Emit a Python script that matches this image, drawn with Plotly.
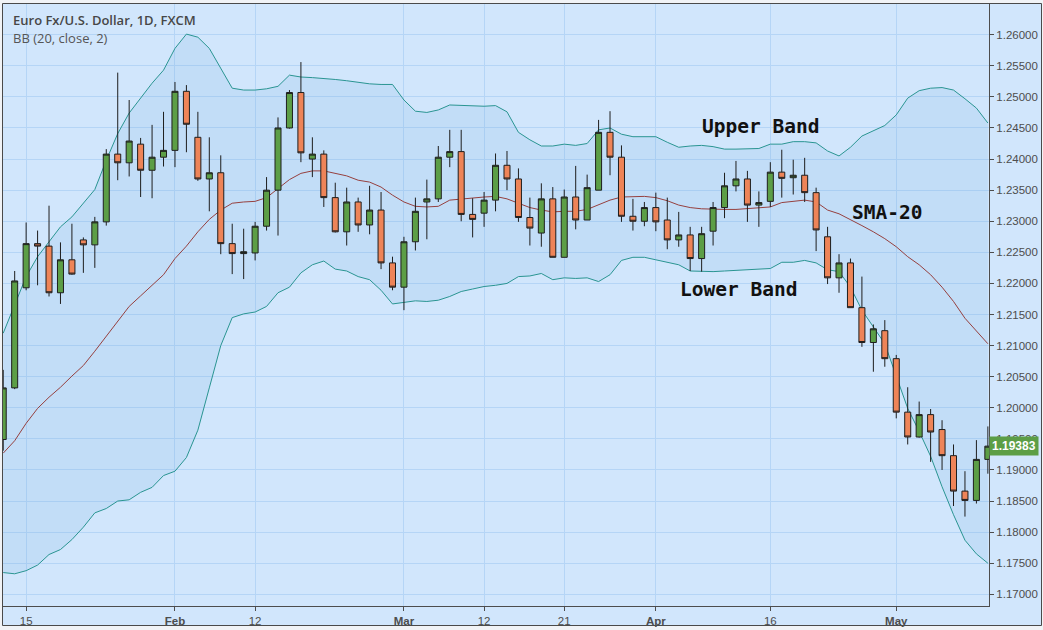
import plotly.graph_objects as go

# ---------------- data ----------------
dates = [
    "2018-01-11", "2018-01-12",
    "2018-01-15", "2018-01-16", "2018-01-17", "2018-01-18", "2018-01-19",
    "2018-01-22", "2018-01-23", "2018-01-24", "2018-01-25", "2018-01-26",
    "2018-01-29", "2018-01-30", "2018-01-31", "2018-02-01", "2018-02-02",
    "2018-02-05", "2018-02-06", "2018-02-07", "2018-02-08", "2018-02-09",
    "2018-02-12", "2018-02-13", "2018-02-14", "2018-02-15", "2018-02-16",
    "2018-02-19", "2018-02-20", "2018-02-21", "2018-02-22", "2018-02-23",
    "2018-02-26", "2018-02-27", "2018-02-28", "2018-03-01", "2018-03-02",
    "2018-03-05", "2018-03-06", "2018-03-07", "2018-03-08", "2018-03-09",
    "2018-03-12", "2018-03-13", "2018-03-14", "2018-03-15", "2018-03-16",
    "2018-03-19", "2018-03-20", "2018-03-21", "2018-03-22", "2018-03-23",
    "2018-03-26", "2018-03-27", "2018-03-28", "2018-03-29", "2018-03-30",
    "2018-04-02", "2018-04-03", "2018-04-04", "2018-04-05", "2018-04-06",
    "2018-04-09", "2018-04-10", "2018-04-11", "2018-04-12", "2018-04-13",
    "2018-04-16", "2018-04-17", "2018-04-18", "2018-04-19", "2018-04-20",
    "2018-04-23", "2018-04-24", "2018-04-25", "2018-04-26", "2018-04-27",
    "2018-04-30", "2018-05-01", "2018-05-02", "2018-05-03", "2018-05-04",
    "2018-05-07", "2018-05-08", "2018-05-09", "2018-05-10", "2018-05-11",
]

opens = [
    1.1949, 1.2032,
    1.2193, 1.2264, 1.2260, 1.2185, 1.2238,
    1.2270, 1.2262, 1.2299, 1.2408, 1.2394,
    1.2424, 1.2382, 1.2403, 1.2414, 1.2509,
    1.2435, 1.2368, 1.2378, 1.2264, 1.2248,
    1.2249, 1.2292, 1.2350, 1.2450, 1.2507,
    1.2400, 1.2408, 1.2338, 1.2283, 1.2331,
    1.2294, 1.2318, 1.2233, 1.2194, 1.2267,
    1.2331, 1.2336, 1.2403, 1.2412, 1.2311,
    1.2313, 1.2334, 1.2390, 1.2368, 1.2306,
    1.2281, 1.2336, 1.2242, 1.2339, 1.2302,
    1.2350, 1.2443, 1.2403, 1.2308, 1.2300,
    1.2322, 1.2302, 1.2270, 1.2278, 1.2240,
    1.2284, 1.2322, 1.2357, 1.2368, 1.2326,
    1.2332, 1.2379, 1.2370, 1.2374, 1.2346,
    1.2275, 1.2209, 1.2233, 1.2161, 1.2105,
    1.2124, 1.2079, 1.1993, 1.1953, 1.1989,
    1.1965, 1.1923, 1.1866, 1.1851, 1.1917,
]

highs = [
    1.2061, 1.2220,
    1.2298, 1.2285, 1.2325, 1.2266, 1.2296,
    1.2274, 1.2307, 1.2416, 1.2539, 1.2495,
    1.2434, 1.2455, 1.2476, 1.2524, 1.2519,
    1.2476, 1.2435, 1.2406, 1.2296, 1.2288,
    1.2299, 1.2371, 1.2467, 1.2511, 1.2556,
    1.2435, 1.2414, 1.2362, 1.2354, 1.2338,
    1.2357, 1.2347, 1.2243, 1.2275, 1.2338,
    1.2367, 1.2421, 1.2447, 1.2447, 1.2337,
    1.2347, 1.2409, 1.2413, 1.2385, 1.2338,
    1.2361, 1.2355, 1.2351, 1.2389, 1.2375,
    1.2463, 1.2477, 1.2422, 1.2336, 1.2331,
    1.2346, 1.2338, 1.2315, 1.2291, 1.2291,
    1.2331, 1.2378, 1.2397, 1.2381, 1.2348,
    1.2395, 1.2415, 1.2399, 1.2402, 1.2354,
    1.2291, 1.2247, 1.2240, 1.2211, 1.2134,
    1.2141, 1.2085, 1.2033, 1.2010, 1.1998,
    1.1980, 1.1941, 1.1898, 1.1948, 1.1970,
]

lows = [
    1.1931, 1.2030,
    1.2189, 1.2197, 1.2179, 1.2167, 1.2214,
    1.2217, 1.2225, 1.2293, 1.2366, 1.2372,
    1.2339, 1.2337, 1.2388, 1.2387, 1.2411,
    1.2365, 1.2316, 1.2247, 1.2215, 1.2207,
    1.2237, 1.2285, 1.2277, 1.2449, 1.2395,
    1.2371, 1.2323, 1.2282, 1.2261, 1.2283,
    1.2279, 1.2223, 1.2189, 1.2157, 1.2253,
    1.2271, 1.2331, 1.2387, 1.2300, 1.2274,
    1.2291, 1.2316, 1.2350, 1.2299, 1.2261,
    1.2259, 1.2242, 1.2242, 1.2287, 1.2302,
    1.2350, 1.2374, 1.2299, 1.2285, 1.2292,
    1.2284, 1.2255, 1.2259, 1.2220, 1.2219,
    1.2261, 1.2305, 1.2348, 1.2299, 1.2291,
    1.2323, 1.2338, 1.2343, 1.2331, 1.2252,
    1.2199, 1.2185, 1.2161, 1.2098, 1.2058,
    1.2066, 1.1983, 1.1941, 1.1952, 1.1913,
    1.1900, 1.1842, 1.1825, 1.1846, 1.1894,
]

closes = [
    1.2032, 1.2204,
    1.2264, 1.2260, 1.2185, 1.2238, 1.2215,
    1.2262, 1.2299, 1.2408, 1.2394, 1.2429,
    1.2382, 1.2403, 1.2414, 1.2509, 1.2456,
    1.2368, 1.2378, 1.2264, 1.2248, 1.2251,
    1.2292, 1.2350, 1.2450, 1.2507, 1.2410,
    1.2408, 1.2338, 1.2283, 1.2331, 1.2294,
    1.2318, 1.2233, 1.2194, 1.2267, 1.2316,
    1.2336, 1.2403, 1.2412, 1.2311, 1.2303,
    1.2334, 1.2390, 1.2368, 1.2306, 1.2289,
    1.2336, 1.2242, 1.2339, 1.2302, 1.2354,
    1.2443, 1.2403, 1.2308, 1.2300, 1.2322,
    1.2299, 1.2270, 1.2278, 1.2240, 1.2280,
    1.2322, 1.2357, 1.2368, 1.2326, 1.2330,
    1.2379, 1.2369, 1.2374, 1.2346, 1.2286,
    1.2209, 1.2233, 1.2161, 1.2105, 1.2127,
    1.2079, 1.1993, 1.1953, 1.1989, 1.1961,
    1.1923, 1.1866, 1.1851, 1.1917, 1.19383,
]

bb_upper = [
    1.2120, 1.2165,
    1.2211, 1.2243, 1.2267, 1.2291, 1.2307,
    1.2329, 1.2351, 1.2398, 1.2441, 1.2474,
    1.2498, 1.2522, 1.2543, 1.2578, 1.2601,
    1.2596, 1.2578, 1.2545, 1.2514, 1.2511,
    1.2511, 1.2513, 1.2517, 1.2535, 1.2532,
    1.2531, 1.2530, 1.2528, 1.2526, 1.2523,
    1.2521, 1.2520, 1.2520, 1.2495, 1.2477,
    1.2475, 1.2479, 1.2487, 1.2486, 1.2485,
    1.2485, 1.2486, 1.2476, 1.2443, 1.2431,
    1.2421, 1.2421, 1.2424, 1.2422, 1.2425,
    1.2447, 1.2450, 1.2440, 1.2436, 1.2436,
    1.2436, 1.2427, 1.2419, 1.2421, 1.2422,
    1.2420, 1.2416, 1.2416, 1.2417, 1.2417,
    1.2424, 1.2424, 1.2428, 1.2428, 1.2426,
    1.2413, 1.2405, 1.2419, 1.2437, 1.2445,
    1.2454, 1.2471, 1.2498, 1.2510, 1.2514,
    1.2515, 1.2511, 1.2497, 1.2482, 1.2458,
]

bb_basis = [
    1.1927, 1.1947,
    1.1975, 1.1999, 1.2017, 1.2033, 1.2051,
    1.2068, 1.2091, 1.2115, 1.2140, 1.2163,
    1.2180, 1.2197, 1.2214, 1.2240, 1.2260,
    1.2283, 1.2303, 1.2318, 1.2329, 1.2331,
    1.2332, 1.2338, 1.2352, 1.2367, 1.2377,
    1.2381, 1.2381, 1.2377, 1.2373, 1.2366,
    1.2363, 1.2355, 1.2342, 1.2331, 1.2324,
    1.2323, 1.2324, 1.2334, 1.2336, 1.2337,
    1.2339, 1.2340, 1.2336, 1.2329, 1.2322,
    1.2318, 1.2315, 1.2316, 1.2316, 1.2319,
    1.2326, 1.2334, 1.2339, 1.2340, 1.2340,
    1.2338, 1.2333, 1.2326, 1.2322, 1.2320,
    1.2319, 1.2319, 1.2319, 1.2320, 1.2322,
    1.2323, 1.2330, 1.2332, 1.2334, 1.2331,
    1.2318, 1.2312, 1.2303, 1.2293, 1.2283,
    1.2272, 1.2259, 1.2243, 1.2230, 1.2214,
    1.2194, 1.2171, 1.2144, 1.2123, 1.2103,
]

bb_lower = [
    1.1735, 1.1733,
    1.1738, 1.1747, 1.1764, 1.1772, 1.1788,
    1.1808, 1.1831, 1.1838, 1.1850, 1.1852,
    1.1864, 1.1872, 1.1891, 1.1898, 1.1920,
    1.1964, 1.2032, 1.2100, 1.2145, 1.2151,
    1.2154, 1.2163, 1.2185, 1.2194, 1.2217,
    1.2230, 1.2236, 1.2223, 1.2220, 1.2211,
    1.2206, 1.2189, 1.2167, 1.2170, 1.2172,
    1.2171, 1.2173, 1.2179, 1.2187, 1.2191,
    1.2195, 1.2197, 1.2200, 1.2211, 1.2212,
    1.2216, 1.2206, 1.2209, 1.2208, 1.2209,
    1.2203, 1.2214, 1.2237, 1.2242, 1.2242,
    1.2238, 1.2234, 1.2230, 1.2220, 1.2219,
    1.2219, 1.2220, 1.2221, 1.2222, 1.2223,
    1.2224, 1.2234, 1.2234, 1.2237, 1.2233,
    1.2222, 1.2219, 1.2194, 1.2157, 1.2130,
    1.2103, 1.2051, 1.1999, 1.1962, 1.1922,
    1.1873, 1.1828, 1.1787, 1.1765, 1.1750,
]

tick_dates = ["2018-01-15", "2018-02-01", "2018-02-12", "2018-03-01", "2018-03-12",
              "2018-03-21", "2018-04-02", "2018-04-16", "2018-05-01"]
tick_labels = ["15", "<b>Feb</b>", "12", "<b>Mar</b>", "12", "21", "<b>Apr</b>", "16", "<b>May</b>"]

price_ticks = [1.170, 1.175, 1.180, 1.185, 1.190, 1.195, 1.200, 1.205, 1.210, 1.215,
               1.220, 1.225, 1.230, 1.235, 1.240, 1.245, 1.250, 1.255, 1.260]
last_price = 1.19383

# ---------------- styling ----------------
W, H = 1043, 630
ML, MR, MT, MB = 3, 54, 4, 24
BG = "#d1e6fc"
GRID = "#b5d5f6"
AXC = "#4d4d4d"
TEAL = "#2a9592"
MAROON = "#96403f"
FILL = "rgba(90,160,210,0.12)"
GREEN = "#5c9e46"
RED = "#ee8458"
OUTLINE = "#1e1e1e"

XR = [-0.02, 86.1]
YR = [1.16812, 1.26494]

idx = list(range(len(dates)))
tickvals = [dates.index(d) for d in tick_dates]

PW = W - ML - MR
PH = H - MT - MB


def px(x):
    return (x - ML) / PW


def py(y):
    return (H - MB - y) / PH


fig = go.Figure()

fig.add_trace(go.Scatter(x=idx, y=bb_upper, mode="lines", line=dict(color=TEAL, width=1),
                         hoverinfo="skip", showlegend=False))
fig.add_trace(go.Scatter(x=idx, y=bb_lower, mode="lines", line=dict(color=TEAL, width=1),
                         fill="tonexty", fillcolor=FILL, hoverinfo="skip", showlegend=False))
fig.add_trace(go.Scatter(x=idx, y=bb_basis, mode="lines", line=dict(color=MAROON, width=1),
                         hoverinfo="skip", showlegend=False))

fig.add_trace(go.Candlestick(
    x=idx, open=opens, high=highs, low=lows, close=closes,
    increasing=dict(fillcolor=GREEN, line=dict(color=OUTLINE, width=1)),
    decreasing=dict(fillcolor=RED, line=dict(color=OUTLINE, width=1)),
    whiskerwidth=0, showlegend=False, xaxis="x2", yaxis="y2",
))

tickfont = dict(family="Liberation Sans, Arial, sans-serif", size=11.5, color=AXC)

fig.update_layout(
    width=W, height=H,
    margin=dict(l=ML, r=MR, t=MT, b=MB, pad=0),
    paper_bgcolor="#f1f3f6",
    plot_bgcolor=BG,
    showlegend=False,
    hovermode=False,
    boxgap=0.25, boxgroupgap=0.3,
    xaxis=dict(
        range=XR, tickmode="array", tickvals=tickvals, ticktext=tick_labels,
        showgrid=True, gridcolor=GRID, gridwidth=1, zeroline=False,
        showline=True, linecolor=AXC, linewidth=1,
        ticks="outside", ticklen=4, tickcolor=AXC, tickfont=tickfont,
        rangeslider=dict(visible=False), fixedrange=True, automargin=False,
    ),
    yaxis=dict(
        range=YR, side="right", tickmode="array", tickvals=price_ticks,
        ticktext=["%.5f" % v for v in price_ticks],
        showgrid=True, gridcolor=GRID, gridwidth=1, zeroline=False,
        showline=True, linecolor=AXC, linewidth=1,
        ticks="outside", ticklen=4, tickcolor=AXC, tickfont=tickfont,
        fixedrange=True, automargin=False,
    ),
    xaxis2=dict(range=XR, overlaying="x", visible=False, rangeslider=dict(visible=False),
                fixedrange=True),
    yaxis2=dict(range=YR, overlaying="y", visible=False, fixedrange=True),
)

# outer frame of the chart
fig.add_shape(type="rect", xref="paper", yref="paper",
              x0=px(2.5), x1=px(1041.5), y0=py(625.5), y1=py(3.5),
              line=dict(color="#4a4a4a", width=1), fillcolor=BG, layer="below")

# header texts
fig.add_annotation(xref="paper", yref="paper", x=px(11), y=py(20.5), xanchor="left", yanchor="middle",
                   text="Euro Fx/U.S. Dollar, 1D, FXCM", showarrow=False,
                   font=dict(family="Open Sans, sans-serif", size=13, color="#474747", weight=600))
fig.add_annotation(xref="paper", yref="paper", x=px(11), y=py(37.5), xanchor="left", yanchor="middle",
                   text="BB (20, close, 2)", showarrow=False,
                   font=dict(family="Open Sans, sans-serif", size=13, color="#555555"))

# callout labels
lab_font = dict(family="DejaVu Sans Mono, monospace", size=19.5, color="#111111", weight="bold")
fig.add_annotation(xref="paper", yref="paper", x=px(760.5), y=py(126), text="Upper Band",
                   showarrow=False, font=lab_font, xanchor="center", yanchor="middle")
fig.add_annotation(xref="paper", yref="paper", x=px(738.5), y=py(289), text="Lower Band",
                   showarrow=False, font=lab_font, xanchor="center", yanchor="middle")
fig.add_annotation(xref="paper", yref="paper", x=px(887), y=py(212.5), text="SMA-20",
                   showarrow=False, font=lab_font, xanchor="center", yanchor="middle")

# last price marker on the price scale
fig.add_annotation(xref="paper", yref="y", x=1.0, y=last_price, xanchor="left", yanchor="middle",
                   text="<b>%.5f</b>" % last_price, showarrow=False, bgcolor=GREEN,
                   borderpad=2, font=dict(family="Liberation Sans, Arial, sans-serif", size=12,
                                          color="#ffffff"))

fig.write_html("out.html",
               config={"displayModeBar": False, "staticPlot": True},
               post_script="document.body.style.margin='0';document.body.style.overflow='hidden';")
